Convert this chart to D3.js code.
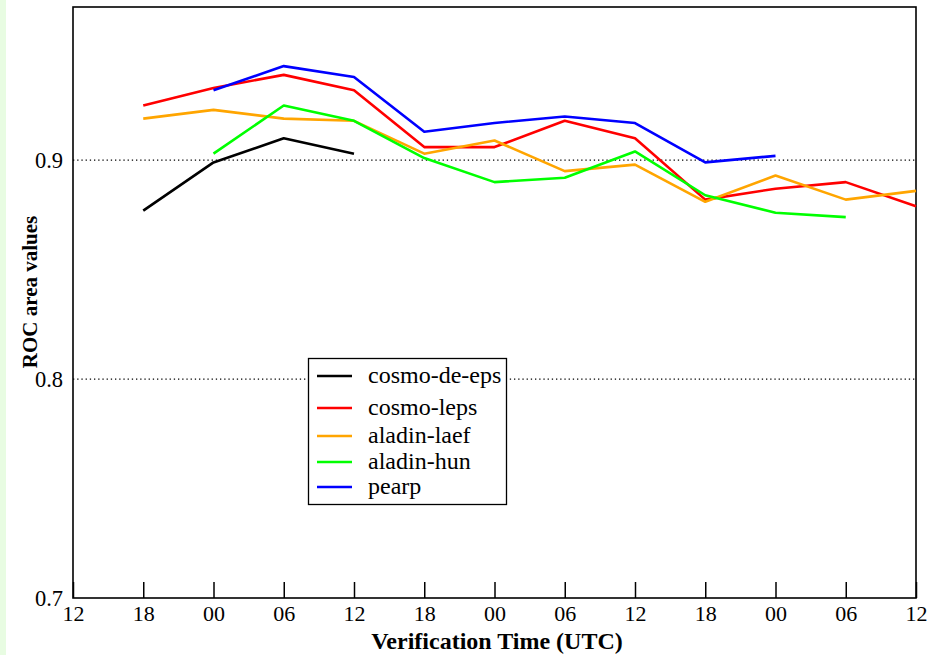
<!DOCTYPE html>
<html>
<head>
<meta charset="utf-8">
<script src="https://cdn.jsdelivr.net/npm/d3@7"></script>
<style>
  body { margin: 0; background: #fff; }
  svg { display: block; }
  text { font-family: "Liberation Serif", "Times New Roman", serif; fill: #000; }
</style>
</head>
<body>
<svg id="chart"></svg>
<script>
// tick labels along the verification time axis (every 6 h)
var timeLabels = ["12", "18", "00", "06", "12", "18", "00", "06", "12", "18", "00", "06", "12"];
var gridValues = [0.8, 0.9];
var yTickValues = [0.7, 0.8, 0.9];

// ROC area values per 6-hourly step, null = no data
var cosmoDeEps = [null, 0.877, 0.899, 0.910, 0.903, null, null, null, null, null, null, null, null];
var cosmoLeps  = [null, 0.925, 0.933, 0.939, 0.932, 0.906, 0.906, 0.918, 0.910, 0.882, 0.887, 0.890, 0.879];
var aladinLaef = [null, 0.919, 0.923, 0.919, 0.918, 0.903, 0.909, 0.895, 0.898, 0.881, 0.893, 0.882, 0.886];
var aladinHun  = [null, null, 0.903, 0.925, 0.918, 0.901, 0.890, 0.892, 0.904, 0.884, 0.876, 0.874, null];
var pearp      = [null, null, 0.932, 0.943, 0.938, 0.913, 0.917, 0.920, 0.917, 0.899, 0.902, null, null];

var seriesNames = ["cosmo-de-eps", "cosmo-leps", "aladin-laef", "aladin-hun", "pearp"];
var seriesValues = [cosmoDeEps, cosmoLeps, aladinLaef, aladinHun, pearp];
var seriesColors = ["#000000", "#ff0000", "#ffa500", "#00ff00", "#0000ff"];

var W = 931, H = 655;
var margin = { top: 7, right: 15, bottom: 57, left: 73 };
var width = W - margin.left - margin.right;
var height = H - margin.top - margin.bottom;
var serif = "Liberation Serif";

var svg = d3.select("#chart").attr("width", W).attr("height", H);

// pale green strip on the left edge
svg.append("rect").attr("x", 0).attr("y", 0).attr("width", 6).attr("height", H).attr("fill", "#e8fce2");

var g = svg.append("g").attr("transform", "translate(" + margin.left + "," + margin.top + ")");

var xScale = d3.scaleLinear().domain([0, timeLabels.length - 1]).range([0, width]);
var yScale = d3.scaleLinear().domain([0.7, 0.97]).range([height, 0]);

// dotted reference lines
g.selectAll(".grid")
  .data(gridValues)
  .enter()
  .append("line")
  .attr("class", "grid")
  .attr("x1", 0)
  .attr("x2", width)
  .attr("y1", (d) => yScale(d))
  .attr("y2", (d) => yScale(d))
  .attr("stroke", "#000")
  .attr("stroke-width", 1.3)
  .attr("stroke-dasharray", "1.3,2.9");

// x axis: ticks point up into the plot
var xAxis = d3.axisBottom(xScale)
  .tickValues(d3.range(timeLabels.length))
  .tickFormat((i) => timeLabels[i])
  .tickSizeInner(-16)
  .tickSizeOuter(0)
  .tickPadding(10);
var gX = g.append("g").attr("transform", "translate(0," + height + ")").call(xAxis);
gX.attr("font-family", serif);
gX.select(".domain").remove();
gX.selectAll("line").attr("stroke", "#000").attr("stroke-width", 1.5);
gX.selectAll("text")
  .attr("font-size", 22)
  .attr("dy", "0.71em")
  .attr("y", 7);

// y axis: labels only
var yAxis = d3.axisLeft(yScale)
  .tickValues(yTickValues)
  .tickFormat(d3.format(".1f"))
  .tickSize(0)
  .tickPadding(10);
var gY = g.append("g").call(yAxis);
gY.attr("font-family", serif);
gY.select(".domain").remove();
gY.selectAll("text").attr("font-size", 22.5);

// frame
g.append("rect")
  .attr("x", 0)
  .attr("y", 0)
  .attr("width", width)
  .attr("height", height)
  .attr("fill", "none")
  .attr("stroke", "#000")
  .attr("stroke-width", 1.6);

// series lines
var line = d3.line()
  .defined((d) => d != null)
  .x((d, i) => xScale(i))
  .y((d) => yScale(d));

g.selectAll(".series")
  .data(seriesValues)
  .enter()
  .append("path")
  .attr("class", "series")
  .attr("fill", "none")
  .attr("stroke", (d, i) => seriesColors[i])
  .attr("stroke-width", 2.6)
  .attr("stroke-linejoin", "round")
  .attr("d", line);

// axis titles
svg.append("text")
  .attr("x", 497)
  .attr("y", 649)
  .attr("text-anchor", "middle")
  .attr("font-family", serif)
  .attr("font-size", 24)
  .attr("font-weight", "bold")
  .text("Verification Time (UTC)");

svg.append("text")
  .attr("transform", "translate(37,292) rotate(-90)")
  .attr("text-anchor", "middle")
  .attr("font-family", serif)
  .attr("font-size", 21)
  .attr("font-weight", "bold")
  .text("ROC area values");

// legend
var legendRowY = [376, 408, 436, 462, 487];
var legend = svg.append("g");
legend.append("rect")
  .attr("x", 308.5)
  .attr("y", 358.5)
  .attr("width", 198)
  .attr("height", 146)
  .attr("fill", "#fff")
  .attr("stroke", "#000")
  .attr("stroke-width", 1.3);

var rows = legend.selectAll(".row")
  .data(seriesNames)
  .enter()
  .append("g")
  .attr("class", "row")
  .attr("transform", (d, i) => "translate(0," + legendRowY[i] + ")");
rows.append("line")
  .attr("x1", 317)
  .attr("x2", 352)
  .attr("stroke", (d, i) => seriesColors[i])
  .attr("stroke-width", 2.6);
rows.append("text")
  .attr("x", 368)
  .attr("y", 7)
  .attr("font-family", serif)
  .attr("font-size", 24)
  .text((d) => d);
</script>
</body>
</html>
